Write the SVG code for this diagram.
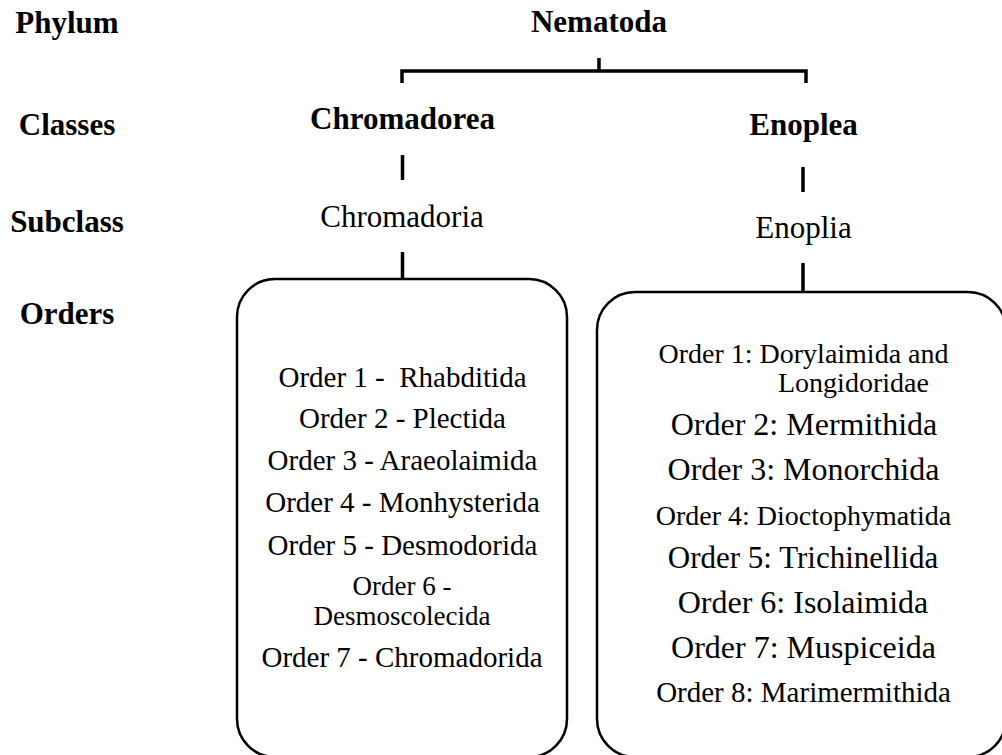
<svg xmlns="http://www.w3.org/2000/svg" width="1002" height="755" viewBox="0 0 1002 755">
<style>
text{font-family:"Liberation Serif","Times New Roman",serif;fill:#000;text-anchor:middle}
.b{font-weight:bold;font-size:31px}
.r{font-size:31px}
.l{font-size:29px}
.s{font-size:27px}
.m{font-size:28px}
.g{font-size:32px}
.ln{stroke:#000;stroke-width:3.5;fill:none}
.box{stroke:#000;stroke-width:2.5;fill:#fff}
</style>
<rect width="1002" height="755" fill="#fff"/>
<g id="rank-labels">
<text class="b" x="67" y="33">Phylum</text>
<text class="b" x="67" y="135">Classes</text>
<text class="b" x="67" y="232">Subclass</text>
<text class="b" x="67" y="324">Orders</text>
</g>
<g id="connectors">
<path class="ln" d="M599 58V71M402 83V71H806V83"/>
<path class="ln" d="M402.5 155V180M402.5 252V279"/>
<path class="ln" d="M803 167V192M803 263V292"/>
</g>
<g id="node-nematoda">
<text class="b" x="599" y="32">Nematoda</text>
</g>
<g id="node-chromadorea">
<text class="b" x="402.5" y="129">Chromadorea</text>
</g>
<g id="node-enoplea">
<text class="b" x="803.5" y="135">Enoplea</text>
</g>
<g id="node-chromadoria">
<text class="r" x="402" y="227">Chromadoria</text>
</g>
<g id="node-enoplia">
<text class="r" x="803.5" y="238">Enoplia</text>
</g>
<g id="node-chromadoria-orders">
<rect class="box" x="237" y="279" width="330" height="478" rx="38"/>
<text class="l" x="402.5" y="387" xml:space="preserve">Order 1 -  Rhabditida</text>
<text class="l" x="402.5" y="428">Order 2 - Plectida</text>
<text class="l" x="402.5" y="470">Order 3 - Araeolaimida</text>
<text class="l" x="402.5" y="512">Order 4 - Monhysterida</text>
<text class="l" x="402.5" y="555">Order 5 - Desmodorida</text>
<text class="s" x="402" y="595">Order 6 -</text>
<text class="s" x="402" y="625">Desmoscolecida</text>
<text class="l" x="402" y="667">Order 7 - Chromadorida</text>
</g>
<g id="node-enoplia-orders">
<rect class="box" x="597" y="292" width="409" height="465" rx="38"/>
<text class="m" x="803.5" y="363">Order 1: Dorylaimida and</text>
<text class="m" x="778" y="392" style="text-anchor:start">Longidoridae</text>
<text class="g" x="804" y="435">Order 2: Mermithida</text>
<text class="g" x="803.5" y="480">Order 3: Monorchida</text>
<text class="m" x="803.5" y="525">Order 4: Dioctophymatida</text>
<text class="r" x="803" y="568">Order 5: Trichinellida</text>
<text class="g" x="803" y="613">Order 6: Isolaimida</text>
<text class="g" x="803.5" y="658">Order 7: Muspiceida</text>
<text class="l" x="803.5" y="702">Order 8: Marimermithida</text>
</g>
</svg>
